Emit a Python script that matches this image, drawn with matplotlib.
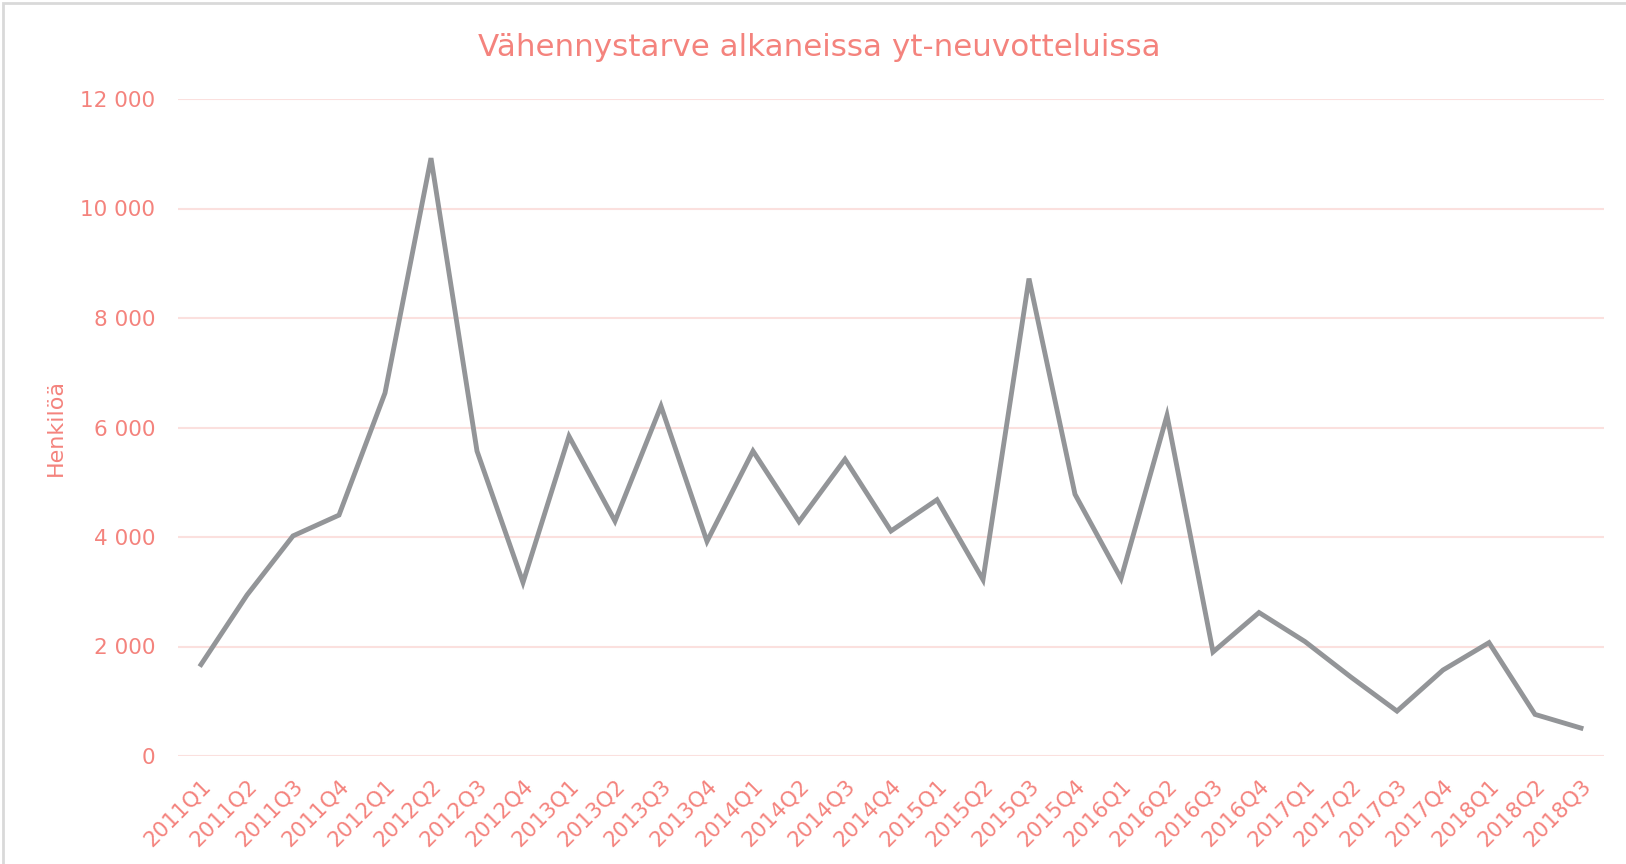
import matplotlib.pyplot as plt
import matplotlib.ticker as ticker
from matplotlib.patches import Rectangle

quarters = [f"{y}Q{q}" for y in range(2011, 2019) for q in range(1, 5)][:31]
values = [1670, 2940, 4020, 4400, 6630, 10920, 5570, 3170,
          5840, 4290, 6390, 3920, 5570, 4280, 5420, 4110,
          4680, 3220, 8720, 4780, 3240, 6220, 1900, 2620,
          2090, 1440, 820, 1570, 2070, 760, 510]

salmon = '#F4837D'
grid_pink = '#FBE0DE'
line_grey = '#939598'

fig = plt.figure(figsize=(16.26, 8.64), dpi=100)
ax = fig.add_axes([178 / 1626, 1 - 756 / 864, 1426 / 1626, (756 - 99) / 864])

x = list(range(len(quarters)))
ax.plot(x, values, color=line_grey, linewidth=3.5, solid_joinstyle='miter', zorder=3)

ax.set_xlim(-0.5, len(quarters) - 0.5)
ax.set_ylim(0, 12000)
ax.set_yticks(range(0, 12001, 2000))
ax.yaxis.set_major_formatter(ticker.FuncFormatter(lambda v, p: f"{int(v):,}".replace(",", " ")))
ax.grid(axis='y', color=grid_pink, linewidth=1.5, zorder=0)
ax.set_xticks(x)
ax.set_xticklabels(quarters, rotation=45, ha='right', rotation_mode='anchor')

for s in ax.spines.values():
    s.set_visible(False)
ax.tick_params(axis='both', length=0, colors=salmon, labelsize=15.5)
ax.tick_params(axis='y', pad=16.5)
ax.tick_params(axis='x', pad=14)

ax.set_ylabel('Henkilöä', color=salmon, fontsize=16)
ax.yaxis.label.set_va('center')
ax.yaxis.set_label_coords((56 - 178) / 1426, 0.5)

fig.text(0.504, 1 - 47 / 864, 'Vähennystarve alkaneissa yt-neuvotteluissa',
         color=salmon, fontsize=22.3, ha='center', va='center')

fig.patches.append(Rectangle((3 / 1626, -0.01), 1.02, 1 - 3 / 864 + 0.01,
                             transform=fig.transFigure, fill=False,
                             edgecolor='#D9D9D9', linewidth=2))

fig.savefig('out.png', dpi=100)
